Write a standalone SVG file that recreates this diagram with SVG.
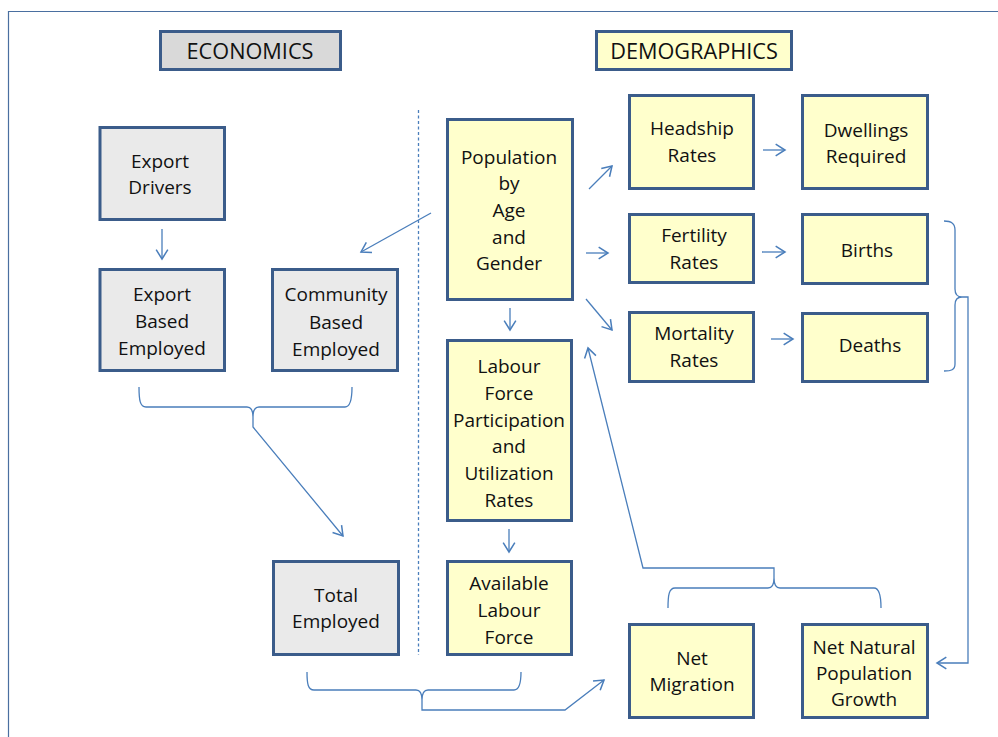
<svg xmlns="http://www.w3.org/2000/svg" width="998" height="737" viewBox="0 0 998 737">
<style>
.box{stroke:#3B5C8A;stroke-width:3}
.y{fill:#FFFFCC}
.g{fill:#EAEAEA}
.h{fill:#D9D9D9}
text{font-family:"Open Sans","Noto Sans",sans-serif;font-size:19px;fill:#111;text-anchor:middle}
.hd{font-size:21.7px}
.c{fill:none;stroke:#4A7EBB;stroke-width:1.3}
.a{marker-end:url(#ah)}
</style>
<defs>
<marker id="ah" markerUnits="userSpaceOnUse" markerWidth="14" markerHeight="14" refX="10" refY="6" orient="auto" viewBox="0 0 12 12">
<path d="M2,1 L10,6 L2,11" fill="none" stroke="#4A7EBB" stroke-width="1.3"/>
</marker>
</defs>
<rect width="998" height="737" fill="#fff"/>
<path d="M8.5,737 V11.5 H998" fill="none" stroke="#4A6FA0" stroke-width="1.2"/>

<g id="connectors">
<line class="c" x1="418.5" y1="110" x2="418.5" y2="655" stroke-dasharray="3,2.5"/>
<path class="c a" d="M162,229 V259"/>
<path class="c a" d="M431,213 L361,252"/>
<path class="c a" d="M589,189 L612,166"/>
<path class="c a" d="M586,253 H608"/>
<path class="c a" d="M586,299 L612,330"/>
<path class="c a" d="M510,308 V330"/>
<path class="c a" d="M509,529 V552"/>
<path class="c a" d="M763,150 H785"/>
<path class="c a" d="M762,252 H785"/>
<path class="c a" d="M771,339 H793"/>
<path class="c" d="M139,387 C139,400 140,407 146,407 H247 C251,407 253,410 253,417 C253,410 255,407 259,407 H345 C350,407 352,400 352,387"/>
<path class="c a" d="M253,417 V427 L343,536"/>
<path class="c" d="M307,672 C307,684 308,690 314,690 H416 C420,690 422,693 422,700 C422,693 424,690 428,690 H514 C519,690 521,684 521,672"/>
<path class="c a" d="M422,700 V710 H565 L604,680"/>
<path class="c" d="M668,608 C668,595 669,588 675,588 H768 C772,588 774,585 774,578 C774,585 776,588 780,588 H874 C879,588 881,595 881,608"/>
<path class="c a" d="M774,578 V568 H643 L588,348"/>
<path class="c" d="M944,221 C951,221 955,223 955,230 V289 C955,294 957,297 962,297 C957,297 955,300 955,305 V364 C955,370 951,371 944,371"/>
<path class="c a" d="M962,297 H968 V663 H937"/>
</g>

<g id="economics"><rect class="box h" x="160.5" y="31.5" width="180" height="38"/><text class="hd" x="250" y="59">ECONOMICS</text></g>
<g id="demographics"><rect class="box y" x="596.5" y="31.5" width="195" height="38"/><text class="hd" x="694" y="59">DEMOGRAPHICS</text></g>

<g id="export-drivers"><rect class="box g" x="100" y="127.5" width="124.5" height="92"/><text x="160" y="168">Export</text><text x="160" y="194">Drivers</text></g>
<g id="export-based"><rect class="box g" x="100" y="269.5" width="124.5" height="101"/><text x="162" y="301">Export</text><text x="162" y="328">Based</text><text x="162" y="355">Employed</text></g>
<g id="community-based"><rect class="box g" x="272.5" y="269.5" width="125" height="101"/><text x="336" y="301">Community</text><text x="336" y="329">Based</text><text x="336" y="356">Employed</text></g>
<g id="total-employed"><rect class="box g" x="273.5" y="561.5" width="125" height="93"/><text x="336" y="602">Total</text><text x="336" y="628">Employed</text></g>

<g id="population"><rect class="box y" x="447.5" y="119.5" width="125" height="180"/><text x="509" y="164">Population</text><text x="509" y="190">by</text><text x="509" y="217">Age</text><text x="509" y="244">and</text><text x="509" y="270">Gender</text></g>
<g id="labour-force"><rect class="box y" x="447.5" y="340.5" width="124" height="180"/><text x="509" y="373">Labour</text><text x="509" y="400">Force</text><text x="509" y="427">Participation</text><text x="509" y="453">and</text><text x="509" y="480">Utilization</text><text x="509" y="507">Rates</text></g>
<g id="available-labour"><rect class="box y" x="447.5" y="561.5" width="124" height="93"/><text x="509" y="590">Available</text><text x="509" y="617">Labour</text><text x="509" y="644">Force</text></g>

<g id="headship"><rect class="box y" x="629.5" y="95.5" width="124" height="93"/><text x="692" y="135">Headship</text><text x="692" y="162">Rates</text></g>
<g id="dwellings"><rect class="box y" x="802.5" y="95.5" width="125" height="93"/><text x="866" y="137">Dwellings</text><text x="866" y="163">Required</text></g>
<g id="fertility"><rect class="box y" x="629.5" y="214.5" width="124" height="68"/><text x="694" y="242">Fertility</text><text x="694" y="269">Rates</text></g>
<g id="births"><rect class="box y" x="802.5" y="214.5" width="125" height="69"/><text x="867" y="257">Births</text></g>
<g id="mortality"><rect class="box y" x="629.5" y="312.5" width="124" height="69"/><text x="694" y="340">Mortality</text><text x="694" y="367">Rates</text></g>
<g id="deaths"><rect class="box y" x="802.5" y="313.5" width="125" height="68"/><text x="870" y="352">Deaths</text></g>
<g id="net-migration"><rect class="box y" x="629.5" y="624.5" width="124" height="93"/><text x="692" y="665">Net</text><text x="692" y="691">Migration</text></g>
<g id="net-natural"><rect class="box y" x="802.5" y="624.5" width="125" height="93"/><text x="864" y="654">Net Natural</text><text x="864" y="680">Population</text><text x="864" y="706">Growth</text></g>
</svg>
